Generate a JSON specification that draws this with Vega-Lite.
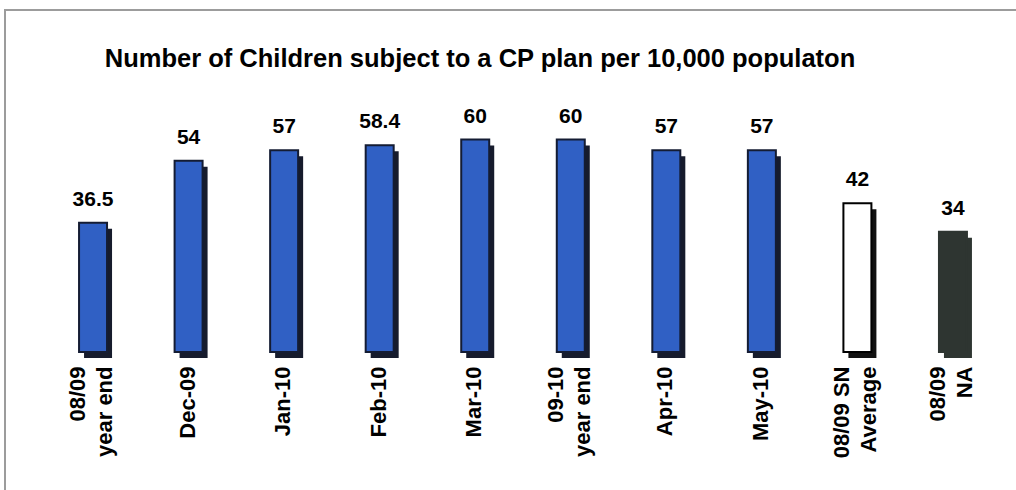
{
  "$schema": "https://vega.github.io/schema/vega-lite/v6.json",
  "autosize": "none",
  "width": 1036,
  "height": 490,
  "padding": {"left": 5, "top": 10, "right": 0, "bottom": 0},
  "background": "#ffffff",
  "title": {
    "text": "Number of Children subject to a CP plan per 10,000 populaton",
    "font": "Liberation Sans",
    "fontSize": 25.5,
    "fontWeight": "bold",
    "color": "#000000",
    "anchor": "middle",
    "dx": -43,
    "baseline": "alphabetic",
    "offset": -82
  },
  "data": {
    "values": [
      {"period": "08/09|year end", "value": 36.5, "kind": "Monthly"},
      {"period": "Dec-09", "value": 54, "kind": "Monthly"},
      {"period": "Jan-10", "value": 57, "kind": "Monthly"},
      {"period": "Feb-10", "value": 58.4, "kind": "Monthly"},
      {"period": "Mar-10", "value": 60, "kind": "Monthly"},
      {"period": "09-10|year end", "value": 60, "kind": "Monthly"},
      {"period": "Apr-10", "value": 57, "kind": "Monthly"},
      {"period": "May-10", "value": 57, "kind": "Monthly"},
      {"period": "08/09 SN|Average", "value": 42, "kind": "SN"},
      {"period": "08/09|NA", "value": 34, "kind": "NA"}
    ]
  },
  "encoding": {
    "x": {
      "field": "period",
      "type": "nominal",
      "sort": null,
      "scale": {"paddingInner": 0.707, "paddingOuter": 0.775},
      "axis": {
        "orient": "bottom",
        "offset": -148,
        "title": null,
        "domain": false,
        "ticks": false,
        "labelAngle": 270,
        "labelAlign": "right",
        "labelBaseline": "middle",
        "labelFont": "Liberation Sans",
        "labelFontSize": 22,
        "labelFontWeight": "bold",
        "labelColor": "#000000",
        "labelPadding": 14,
        "labelLineHeight": 27,
        "labelOverlap": false,
        "labelLimit": 0,
        "labelBound": false,
        "labelOffset": {"condition": {"test": "indexof(datum.value, '|') >= 0", "value": -15}, "value": -1},
        "labelExpr": "split(datum.value, '|')"
      }
    },
    "y": {
      "field": "value",
      "type": "quantitative",
      "scale": {"domain": [-41.81, 96.61], "nice": false, "zero": false},
      "axis": null
    }
  },
  "layer": [
    {
      "mark": {"type": "bar", "xOffset": 5, "yOffset": 6, "y2Offset": 0.01},
      "encoding": {
        "color": {
          "field": "kind",
          "type": "nominal",
          "scale": {"domain": ["Monthly", "SN", "NA"], "range": ["#161b2c", "#111111", "#2e3531"]},
          "legend": null
        }
      }
    },
    {
      "mark": {"type": "bar", "strokeWidth": 2},
      "encoding": {
        "color": {
          "field": "kind",
          "type": "nominal",
          "scale": {"domain": ["Monthly", "SN", "NA"], "range": ["#3060c4", "#ffffff", "#2e3531"]},
          "legend": null
        },
        "stroke": {
          "field": "kind",
          "type": "nominal",
          "scale": {"domain": ["Monthly", "SN", "NA"], "range": ["#141c33", "#000000", "#2e3531"]},
          "legend": null
        }
      }
    },
    {
      "mark": {
        "type": "text",
        "baseline": "alphabetic",
        "dy": -17,
        "font": "Liberation Sans",
        "fontSize": 21,
        "fontWeight": "bold",
        "color": "#000000"
      },
      "encoding": {
        "text": {"field": "value", "type": "quantitative"}
      }
    }
  ],
  "resolve": {"scale": {"color": "independent"}},
  "config": {
    "view": {"stroke": "#9c9c9c", "strokeWidth": 2}
  }
}
